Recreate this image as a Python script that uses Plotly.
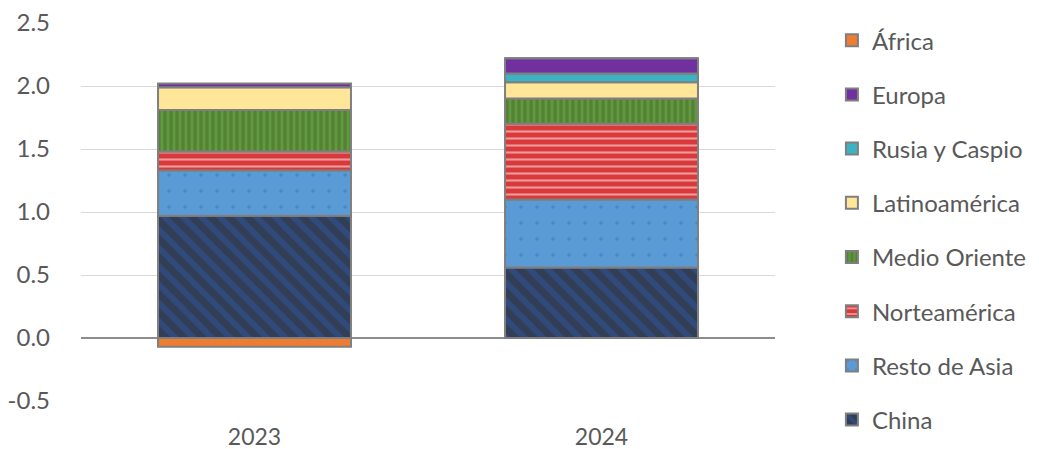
import plotly.graph_objects as go

years = ["2023", "2024"]

china = [0.97, 0.56]
resto_asia = [0.36, 0.54]
norteamerica = [0.15, 0.60]
medio_oriente = [0.33, 0.20]
latinoamerica = [0.18, 0.13]
rusia_caspio = [0.00, 0.07]
europa = [0.03, 0.12]
africa = [-0.07, 0.00]

y_ticks = [-0.5, 0.0, 0.5, 1.0, 1.5, 2.0, 2.5]
y_tick_labels = ["-0.5", "0.0", "0.5", "1.0", "1.5", "2.0", "2.5"]

series = [
    ("China", china, dict(shape="\\", bgcolor="#323E55", fgcolor="#2F55A4", size=13, solidity=0.45)),
    ("Resto de Asia", resto_asia, dict(shape=".", bgcolor="#5B9BD5", fgcolor="#2E75B6", size=16, solidity=0.04)),
    ("Norteamérica", norteamerica, dict(shape="-", bgcolor="#D9393B", fgcolor="#FFFFFF", size=7, solidity=0.3)),
    ("Medio Oriente", medio_oriente, dict(shape="|", bgcolor="#548235", fgcolor="#70AD47", size=6, solidity=0.45)),
    ("Latinoamérica", latinoamerica, None, "#FFE699"),
    ("Rusia y Caspio", rusia_caspio, None, "#3BB3C3"),
    ("Europa", europa, None, "#7030A0"),
    ("África", africa, None, "#ED7D31"),
]

fig = go.Figure()
for i, s in enumerate(series):
    name, vals, pattern = s[0], s[1], s[2]
    marker = dict(line=dict(color="#7F7F7F", width=2))
    if pattern is not None:
        marker["color"] = pattern["bgcolor"]
        marker["pattern"] = dict(shape=pattern["shape"], fgcolor=pattern["fgcolor"],
                                 bgcolor=pattern["bgcolor"], size=pattern["size"],
                                 solidity=pattern["solidity"], fillmode="overlay")
    else:
        marker["color"] = s[3]
    fig.add_trace(go.Bar(x=years, y=vals, name=name, marker=marker,
                         legendgroup=name, legendrank=100 - i))

fig.update_layout(
    barmode="relative",
    bargap=0.444,
    width=1039,
    height=449,
    margin=dict(l=81, r=264, t=23, b=48, autoexpand=False),
    plot_bgcolor="white",
    paper_bgcolor="white",
    font=dict(family="Lato", size=23, color="#595959"),
    legend=dict(
        x=1.082, y=1.013, xanchor="left", yanchor="top",
        maxheight=446,
        traceorder="grouped",
        tracegroupgap=20,
        font=dict(family="Lato", size=24, color="#595959"),
        itemwidth=30,
    ),
    xaxis=dict(showgrid=False, showline=False, ticks="", ticklabelstandoff=20,
               automargin=False, tickfont=dict(size=23, color="#595959")),
    yaxis=dict(range=[-0.5, 2.5], tickvals=y_ticks, ticktext=y_tick_labels,
               showgrid=True, gridcolor="#D9D9D9", gridwidth=1,
               zeroline=True, zerolinecolor="#8C8C8C", zerolinewidth=1.5,
               showline=False, ticks="", ticklabelstandoff=30, automargin=False,
               tickfont=dict(size=24, color="#595959")),
)

fig.write_html("out.html")
